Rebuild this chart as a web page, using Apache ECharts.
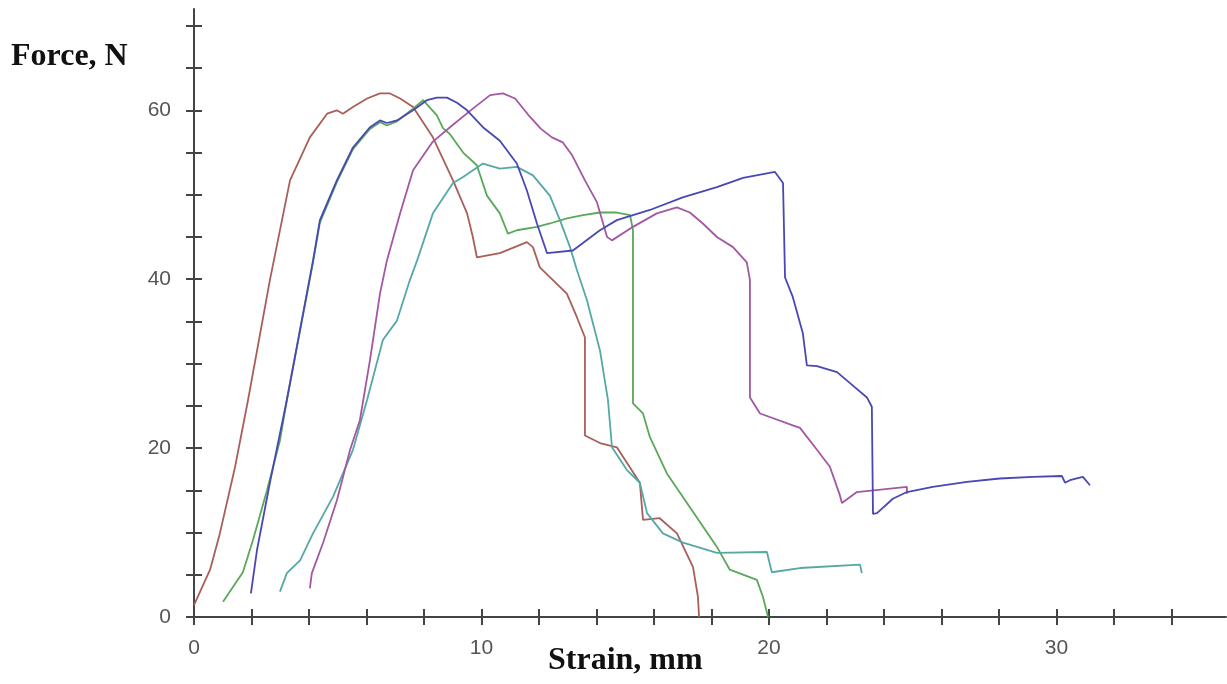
<!DOCTYPE html>
<html>
<head>
<meta charset="utf-8">
<script src="https://cdn.jsdelivr.net/npm/echarts@6/dist/echarts.min.js"></script>
<style>
html,body{margin:0;padding:0;background:#fff;}
#chart{width:1227px;height:684px;}
</style>
</head>
<body>
<div id="chart"></div>
<script>
// ---- data (strain mm, force N) ----
const seriesBrown = [[0,1.4],[0.56,5.6],[0.9,9.9],[1.43,17.8],[1.88,25.7],[2.64,39.9],[3.34,51.7],[4.03,56.8],[4.63,59.6],[4.97,60.0],[5.18,59.6],[5.53,60.4],[6.02,61.4],[6.47,62.0],[6.82,62.0],[7.17,61.4],[7.62,60.4],[8.31,56.8],[9.01,51.7],[9.5,47.8],[9.7,45.0],[9.84,42.6],[10.64,43.1],[11.58,44.4],[11.79,43.8],[12.03,41.4],[12.97,38.3],[13.32,35.5],[13.6,33.1],[13.6,25.7],[13.6,21.5],[14.12,20.6],[14.71,20.1],[15.51,15.9],[15.62,11.5],[16.2,11.7],[16.8,9.9],[17.36,5.9],[17.53,2.4],[17.57,0]];
const seriesGreen = [[1.01,1.8],[1.7,5.3],[2.05,9.1],[2.54,15.0],[2.99,20.9],[3.23,25.7],[4.14,42.0],[4.38,46.7],[4.97,51.5],[5.53,55.4],[6.12,57.8],[6.47,58.6],[6.71,58.2],[7.06,58.7],[7.62,60.2],[7.97,61.2],[8.45,59.4],[8.66,57.9],[8.9,57.2],[9.36,55.0],[9.84,53.5],[10.19,49.9],[10.64,47.8],[10.92,45.4],[11.23,45.8],[11.93,46.2],[12.38,46.6],[12.97,47.2],[13.53,47.6],[14.12,47.9],[14.71,47.9],[15.17,47.6],[15.27,45.8],[15.27,25.3],[15.62,24.1],[15.86,21.3],[16.45,17.0],[17.25,13.0],[18.19,8.3],[18.64,5.6],[19.58,4.4],[19.79,2.4],[19.97,0]];
const seriesBlue = [[1.98,2.8],[2.19,7.9],[2.64,15.9],[3.23,25.7],[4.14,42.2],[4.38,47.0],[4.97,51.7],[5.53,55.6],[6.12,58.0],[6.47,58.8],[6.71,58.5],[7.06,58.8],[7.62,60.0],[8.1,61.2],[8.45,61.5],[8.8,61.5],[9.15,60.9],[9.5,60.0],[10.05,58.0],[10.64,56.4],[11.23,53.7],[11.58,50.5],[11.93,46.6],[12.28,43.1],[13.18,43.4],[13.53,44.3],[14.12,45.8],[14.71,47.0],[15.86,48.2],[17.0,49.7],[18.19,50.9],[19.1,52.0],[20.21,52.7],[20.49,51.4],[20.56,40.2],[20.83,37.9],[21.18,33.6],[21.32,29.8],[21.67,29.7],[22.37,29.0],[22.82,27.7],[23.41,26.0],[23.58,24.9],[23.62,12.2],[23.76,12.3],[24.31,14.0],[24.8,14.8],[25.7,15.4],[26.89,16.0],[28.03,16.4],[29.18,16.6],[30.19,16.7],[30.3,15.9],[30.47,16.2],[30.92,16.6],[31.17,15.6]];
const seriesTeal = [[2.99,3.0],[3.23,5.2],[3.69,6.7],[4.14,9.9],[4.83,14.2],[5.53,19.8],[6.02,25.7],[6.57,32.8],[7.06,35.1],[7.51,39.9],[7.76,42.2],[8.31,47.8],[9.01,51.4],[9.36,52.1],[10.05,53.7],[10.64,53.1],[11.23,53.3],[11.79,52.3],[12.38,49.9],[12.73,47.0],[13.08,43.8],[13.32,41.1],[13.67,37.5],[14.12,31.6],[14.4,25.7],[14.54,20.1],[15.06,17.4],[15.51,15.9],[15.76,12.3],[16.31,9.9],[17.01,8.8],[18.19,7.6],[19.93,7.7],[20.1,5.3],[21.08,5.8],[23.17,6.2],[23.23,5.2]];
const seriesPurple = [[4.03,3.4],[4.1,5.2],[4.49,8.8],[4.97,13.8],[5.43,19.8],[5.77,23.3],[6.12,30.4],[6.47,38.3],[6.71,42.2],[7.17,47.8],[7.62,52.9],[8.31,56.3],[9.01,58.3],[9.7,60.2],[10.3,61.8],[10.75,62.0],[11.17,61.4],[11.62,59.5],[12.07,57.8],[12.45,56.8],[12.83,56.2],[13.15,54.7],[13.6,51.7],[14.02,49.1],[14.37,45.0],[14.54,44.6],[15.27,46.2],[16.1,47.8],[16.8,48.5],[17.25,47.9],[17.7,46.6],[18.19,45.0],[18.75,43.8],[19.23,42.0],[19.34,39.9],[19.34,26.0],[19.69,24.1],[20.83,22.7],[21.08,22.4],[21.67,19.8],[22.12,17.8],[22.47,14.4],[22.54,13.5],[23.06,14.8],[24.8,15.4],[24.8,14.6]];

const xTickValues = [0,2,4,6,8,10,12,14,16,18,20,22,24,26,28,30,32,34];
const xTickLabels = [0,10,20,30];
const yTickValues = [0,5,10,15,20,25,30,35,40,45,50,55,60,65,70];
const yTickLabels = [0,20,40,60];
const xTitle = 'Strain, mm';
const yTitle = 'Force, N';

const chart = echarts.init(document.getElementById('chart'), null, {renderer:'canvas'});
const axisCol = '#444';
const labelStyle = {color:'#555', fontSize:21, fontFamily:'Liberation Sans, Arial, sans-serif'};

function mkX(inside, showLabels){
  return {
    type:'value', min:0, max:35.9, position:'bottom', gridIndex:0,
    axisLine:{show:!inside, lineStyle:{color:axisCol, width:2}},
    axisTick:{show:true, inside:inside, length:8, customValues:xTickValues, lineStyle:{color:axisCol, width:2}},
    axisLabel:Object.assign({show:showLabels, margin:21, customValues:xTickLabels}, labelStyle),
    splitLine:{show:false}
  };
}
function mkY(inside, showLabels){
  return {
    type:'value', min:0, max:72, position:'left', gridIndex:0,
    axisLine:{show:!inside, lineStyle:{color:axisCol, width:2}},
    axisTick:{show:true, inside:inside, length:8, customValues:yTickValues, lineStyle:{color:axisCol, width:2}},
    axisLabel:Object.assign({show:showLabels, margin:23, customValues:yTickLabels}, labelStyle),
    splitLine:{show:false}
  };
}
function mkSeries(data, color){
  return {type:'line', data:data, xAxisIndex:0, yAxisIndex:0, showSymbol:false, symbol:'none',
    lineStyle:{color:color, width:1.8}, itemStyle:{color:color}, smooth:false, animation:false, z:3};
}

chart.setOption({
  animation:false,
  backgroundColor:'#fff',
  grid:{left:194, right:1, top:9, bottom:67, containLabel:false},
  xAxis:[mkX(false,true), mkX(true,false)],
  yAxis:[mkY(false,true), mkY(true,false)],
  series:[
    mkSeries(seriesBrown,'#a85f5a'),
    mkSeries(seriesGreen,'#5aa85a'),
    mkSeries(seriesTeal,'#55a8a6'),
    mkSeries(seriesPurple,'#a258a2'),
    mkSeries(seriesBlue,'#4848b4')
  ],
  graphic:[
    {type:'text', left:11, top:41, style:{text:yTitle, font:'bold 32px "Liberation Serif", "Times New Roman", serif', fill:'#111'}},
    {type:'text', left:548, top:645, style:{text:xTitle, font:'bold 32px "Liberation Serif", "Times New Roman", serif', fill:'#111'}}
  ]
});
</script>
</body>
</html>
